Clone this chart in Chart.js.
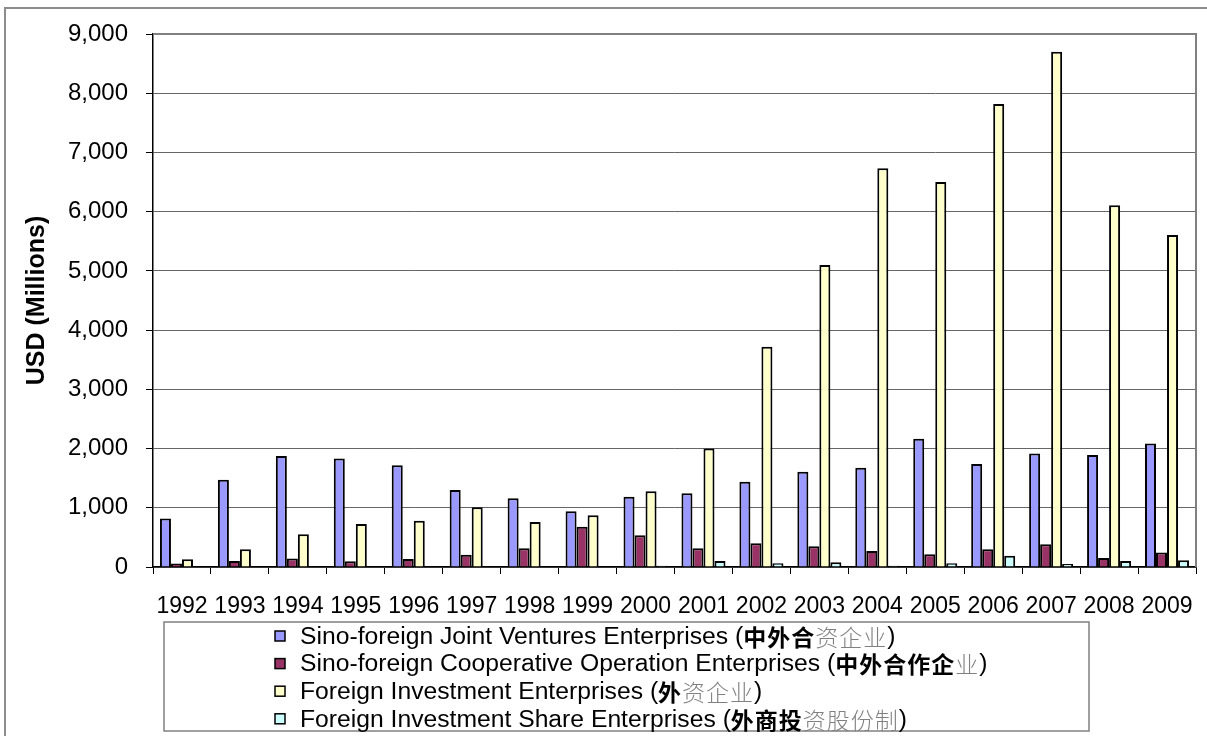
<!DOCTYPE html>
<html>
<head>
<meta charset="utf-8">
<script src="https://cdn.jsdelivr.net/npm/chart.js@4.4.0/dist/chart.umd.min.js"></script>
<style>
  html, body { margin: 0; padding: 0; background: #fff; }
  #wrap { width: 1207px; height: 736px; }
</style>
</head>
<body>
<div id="wrap"><canvas id="fdiChart" width="1207" height="736"></canvas></div>
<script>
// Years on the x axis
const years = ['1992', '1993', '1994', '1995', '1996', '1997', '1998', '1999', '2000',
               '2001', '2002', '2003', '2004', '2005', '2006', '2007', '2008', '2009'];

// USD millions
const jointVentures = [820, 1475, 1875, 1830, 1720, 1300, 1160, 940, 1185,
                       1245, 1440, 1610, 1675, 2165, 1740, 1915, 1890, 2085];
const cooperativeOps = [60, 100, 145, 95, 135, 205, 315, 680, 535,
                        315, 400, 350, 270, 215, 300, 385, 150, 245];
const foreignInvestment = [130, 300, 555, 725, 780, 1010, 760, 875, 1280,
                           2000, 3720, 5100, 6735, 6500, 7820, 8700, 6110, 5605];
const foreignShare = [0, 0, 0, 0, 0, 0, 0, 0, 20,
                      100, 65, 80, 20, 65, 190, 50, 100, 115];

const seriesLabels = [
    'Sino-foreign Joint Ventures Enterprises (中外合资企业)',
    'Sino-foreign Cooperative Operation Enterprises (中外合作企业)',
    'Foreign Investment Enterprises (外资企业)',
    'Foreign Investment Share Enterprises (外商投资股份制)'
];
const seriesColors = ['#9999ff', '#993366', '#ffffcc', '#ccffff'];

const yTicksMax = 9000;
const yTicksStep = 1000;

const armFont = '"Liberation Sans", Arial, sans-serif';
const cjkFont = '"Noto Sans CJK SC", sans-serif';

// outer frame + top/right border of plot area
const framePlugin = {
    id: 'frame',
    beforeDraw(chart) {
        const ctx = chart.ctx;
        ctx.save();
        ctx.strokeStyle = '#8c8c8c';
        ctx.lineWidth = 2;
        ctx.strokeRect(5, 8, 1220, 750);
        ctx.restore();
    },
    beforeDatasetsDraw(chart) {
        const a = chart.chartArea;
        const ctx = chart.ctx;
        ctx.save();
        ctx.strokeStyle = '#808080';
        ctx.lineWidth = 2;
        ctx.beginPath();
        ctx.moveTo(a.left, a.top);
        ctx.lineTo(a.right, a.top);
        ctx.lineTo(a.right, a.bottom);
        ctx.stroke();
        ctx.restore();
    }
};

// Excel style boxed legend, one entry per line
const boxLegendPlugin = {
    id: 'boxLegend',
    afterDraw(chart) {
        const ctx = chart.ctx;
        const box = { x: 164, y: 622, w: 925, h: 109 };
        ctx.save();
        ctx.strokeStyle = '#808080';
        ctx.lineWidth = 1.5;
        ctx.strokeRect(box.x, box.y, box.w, box.h);

        chart.data.datasets.forEach((ds, i) => {
            const cy = 636 + i * 27.6;
            // marker
            ctx.fillStyle = ds.backgroundColor;
            ctx.fillRect(275, cy - 5, 10, 10);
            ctx.strokeStyle = '#000';
            ctx.lineWidth = 1.5;
            ctx.strokeRect(275, cy - 5, 10, 10);

            // text, CJK part bold up to the first 资/业, then light gray
            const label = ds.label;
            let grayStart = label.length;
            for (let k = 0; k < label.length; k++) {
                if (label[k] === '资' || label[k] === '业') { grayStart = k; break; }
            }
            let x = 300;
            ctx.textBaseline = 'middle';
            let run = '';
            const flush = () => {
                if (!run) return;
                ctx.font = '24.7px ' + armFont;
                ctx.fillStyle = '#000';
                ctx.fillText(run, x, cy + 1);
                x += ctx.measureText(run).width;
                run = '';
            };
            for (let k = 0; k < label.length; k++) {
                const ch = label[k];
                if (ch.charCodeAt(0) > 0x2e80) {
                    flush();
                    if (k < grayStart) {
                        ctx.font = 'bold 23px ' + cjkFont;
                        ctx.fillStyle = '#000';
                    } else {
                        ctx.font = '300 23px ' + cjkFont;
                        ctx.fillStyle = '#808080';
                    }
                    ctx.fillText(ch, x, cy + 1);
                    x += ctx.measureText(ch).width + 1;
                } else {
                    run += ch;
                }
            }
            flush();
        });
        ctx.restore();
    }
};

const ctx = document.getElementById('fdiChart').getContext('2d');
new Chart(ctx, {
    type: 'bar',
    data: {
        labels: years,
        datasets: [
            { label: seriesLabels[0], data: jointVentures, backgroundColor: seriesColors[0] },
            { label: seriesLabels[1], data: cooperativeOps, backgroundColor: seriesColors[1] },
            { label: seriesLabels[2], data: foreignInvestment, backgroundColor: seriesColors[2] },
            { label: seriesLabels[3], data: foreignShare, backgroundColor: seriesColors[3] }
        ]
    },
    options: {
        responsive: false,
        animation: false,
        datasets: {
            bar: {
                borderColor: '#000',
                borderWidth: 2,
                borderSkipped: 'start',
                categoryPercentage: 0.76,
                barPercentage: 1.0
            }
        },
        layout: {
            padding: { left: 0, top: 34, right: 11, bottom: 109 }
        },
        plugins: {
            legend: { display: false },
            tooltip: { enabled: false }
        },
        scales: {
            x: {
                afterFit: (scale) => {
                    scale.height = 60;
                    scale.paddingLeft = 0;
                    scale.paddingRight = 0;
                },
                grid: {
                    offset: true,
                    drawOnChartArea: false,
                    drawTicks: true,
                    tickLength: 7,
                    tickColor: '#000',
                    color: '#000'
                },
                border: { color: '#000', width: 1.5 },
                ticks: {
                    color: '#000',
                    padding: 19,
                    maxRotation: 0,
                    autoSkip: false,
                    font: { family: armFont, size: 23 }
                }
            },
            y: {
                min: 0,
                max: yTicksMax,
                afterFit: (scale) => {
                    scale.width = 153;
                    scale.paddingTop = 0;
                    scale.paddingBottom = 0;
                },
                grid: {
                    color: '#666',
                    lineWidth: 1,
                    tickLength: 7,
                    tickColor: '#000'
                },
                border: { color: '#000', width: 1.5 },
                ticks: {
                    stepSize: yTicksStep,
                    color: '#000',
                    padding: 18,
                    font: { family: armFont, size: 24 },
                    callback: (v) => v.toLocaleString('en-US')
                },
                title: {
                    display: true,
                    text: 'USD (Millions)',
                    color: '#000',
                    padding: { top: 22, bottom: 0 },
                    font: { family: armFont, size: 25, weight: 'bold' }
                }
            }
        }
    },
    plugins: [framePlugin, boxLegendPlugin]
});
</script>
</body>
</html>
